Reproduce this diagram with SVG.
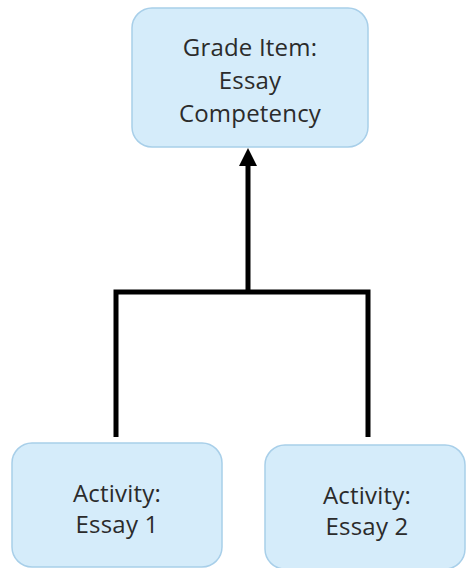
<svg xmlns="http://www.w3.org/2000/svg" width="466" height="568" viewBox="0 0 466 568">
<style>
.box{fill:#d5ecfa;stroke:#a8cfe9;stroke-width:1.5}
.lbl{font-family:"Open Sans","DejaVu Sans",sans-serif;font-size:24px;letter-spacing:0.2px;fill:#2b2b2b;text-anchor:middle}
.conn{fill:none;stroke:#000;stroke-width:5;stroke-linejoin:miter}
</style>
<rect width="466" height="568" fill="#fff"/>
<g id="connectors">
<path class="conn" d="M116,437 V292 H368 V437"/>
<path class="conn" d="M248,292 V164"/>
<path d="M239,166 L248,148 L257,166 Z" fill="#000"/>
</g>
<g id="grade-item">
<rect class="box" x="132" y="8" width="236" height="139" rx="20"/>
<text class="lbl" x="250" y="56">Grade Item:</text>
<text class="lbl" x="250" y="89">Essay</text>
<text class="lbl" x="250" y="122">Competency</text>
</g>
<g id="essay1">
<rect class="box" x="12" y="443" width="210" height="124" rx="20"/>
<text class="lbl" x="117" y="502">Activity:</text>
<text class="lbl" x="117" y="533">Essay 1</text>
</g>
<g id="essay2">
<rect class="box" x="265" y="445" width="200" height="124" rx="20"/>
<text class="lbl" x="367" y="504">Activity:</text>
<text class="lbl" x="367" y="535">Essay 2</text>
</g>
</svg>
